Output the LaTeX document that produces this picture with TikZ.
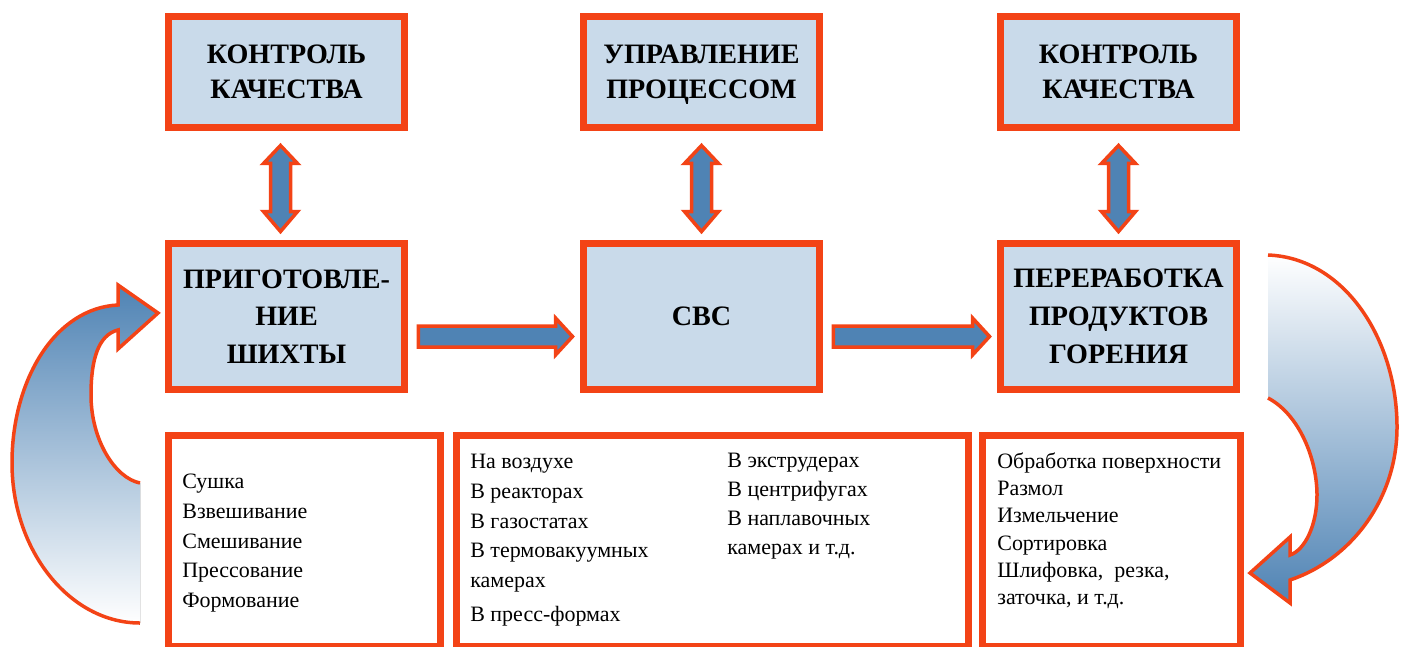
\documentclass[tikz,border=0pt]{standalone}
\usepackage{fontspec}
\setmainfont{Liberation Serif}
\usetikzlibrary{calc}
\definecolor{brd}{RGB}{243,67,22}
\definecolor{boxfill}{RGB}{201,218,234}
\definecolor{arrblue}{RGB}{79,131,180}
\tikzset{
  titlebox/.style={draw=brd, fill=boxfill, line width=0.14cm, align=center,
    minimum width=4.72cm, inner sep=0pt,
    font=\bfseries\fontsize{16}{20}\selectfont},
  listbox/.style={draw=brd, fill=white, line width=0.14cm, inner sep=0pt},
  listtext/.style={anchor=north west, inner sep=0pt, align=left},
  blockarr/.style={draw=brd, fill=arrblue, line width=0.07cm, line join=miter},
  curvearr/.style={draw=brd, line width=0.07cm, line join=miter}
}
\newcommand\vdarrow[3]{%
  \path ($(#1.south)+(#3,14.5)$) coordinate (va) ($(#2.north)+(#3,-8.5)$) coordinate (vb);
  \draw[blockarr] (va) -- ($(va)+(17,18)$) -- ($(va)+(10,18)$) -- ($(vb)+(10,-20)$)
    -- ($(vb)+(17,-20)$) -- (vb) -- ($(vb)+(-17,-20)$) -- ($(vb)+(-10,-20)$)
    -- ($(va)+(-10,18)$) -- ($(va)+(-17,18)$) -- cycle;}
\newcommand\hsarrow[2]{%
  \path ($(#1.east)+(10.5,20)$) coordinate (ha) ($(#2.west)+(-7.5,20)$) coordinate (hb);
  \draw[blockarr] ($(ha)+(0,-10.5)$) -- ($(hb)+(-17,-10.5)$) -- ($(hb)+(-17,-18.5)$)
    -- (hb) -- ($(hb)+(-17,18.5)$) -- ($(hb)+(-17,10.5)$) -- ($(ha)+(0,10.5)$) -- cycle;}
\begin{document}
\begin{tikzpicture}[x=0.02cm,y=-0.02cm]
\useasboundingbox (0,0) rectangle (1405,646);
% top row
\node[titlebox, minimum height=2.22cm] (t1) at (286.5,72) {КОНТРОЛЬ\\КАЧЕСТВА};
\node[titlebox, minimum height=2.22cm, text depth=0pt] (t2) at (701.5,72) {УПРАВЛЕНИЕ\\ПРОЦЕССОМ};
\node[titlebox, minimum height=2.22cm] (t3) at (1118.5,72) {КОНТРОЛЬ\\КАЧЕСТВА};
% middle row
\node[titlebox, minimum height=2.92cm, font=\bfseries\fontsize{16}{21.5}\selectfont] (m1) at (286.5,316.5) {ПРИГОТОВЛЕ-\\НИЕ\\ШИХТЫ};
\node[titlebox, minimum height=2.92cm] (m2) at (701.5,316.5) {СВС};
\node[titlebox, minimum height=2.92cm, font=\bfseries\fontsize{16}{21.5}\selectfont] (m3) at (1118.5,316.5) {ПЕРЕРАБОТКА\\ПРОДУКТОВ\\ГОРЕНИЯ};
% bottom row
\node[listbox, minimum width=5.44cm, minimum height=4.23cm] (b1) at (304.5,541.25) {};
\node[listbox, minimum width=10.24cm, minimum height=4.23cm] (b2) at (712.5,541.25) {};
\node[listbox, minimum width=5.16cm, minimum height=4.23cm] (b3) at (1111.5,541.25) {};
\node[listtext, font=\fontsize{12.5}{17}\selectfont] (l1) at (182,467) {\strut Сушка\\Взвешивание\\Смешивание\\Прессование\\Формование};
\node[listtext, font=\fontsize{12.5}{17}\selectfont] (l2) at (470,447) {\strut На воздухе\\В реакторах\\В газостатах\\В термовакуумных\\камерах\\[2pt]В пресс-формах};
\node[listtext, font=\fontsize{12.5}{16.5}\selectfont] (l3) at (727,447) {\strut В экструдерах\\В центрифугах\\В наплавочных\\камерах и т.д.};
\node[listtext, font=\fontsize{12.5}{15.5}\selectfont] (l4) at (997,449) {\strut Обработка поверхности\\Размол\\Измельчение\\Сортировка\\Шлифовка,\ \ резка,\\заточка, и т.д.};
% vertical double arrows
\vdarrow{t1}{m1}{-6}
\vdarrow{t2}{m2}{0}
\vdarrow{t3}{m3}{0}
% horizontal arrows
\hsarrow{m1}{m2}
\hsarrow{m2}{m3}
% left curved arrow
\fill[top color=arrblue, bottom color=white]
  (140,483) .. controls (115,478) and (91,440) .. (91,395)
  .. controls (91,360) and (98,335) .. (118,330)
  -- (118,349) -- (158,313) -- (118,285) -- (118,305)
  .. controls (55,308) and (12,380) .. (12,463)
  .. controls (12,551) and (70,623) .. (140,623) -- cycle;
\draw[curvearr]
  (140,483) .. controls (115,478) and (91,440) .. (91,395)
  .. controls (91,360) and (98,335) .. (118,330)
  -- (118,349) -- (158,313) -- (118,285) -- (118,305)
  .. controls (55,308) and (12,380) .. (12,463)
  .. controls (12,551) and (70,623) .. (140,623);
% right curved arrow
\fill[top color=white, bottom color=arrblue]
  (1268,398) .. controls (1300,415) and (1317,460) .. (1317,495)
  .. controls (1317,525) and (1305,550) .. (1290,555)
  -- (1290,537) -- (1250,573) -- (1290,603) -- (1290,580)
  .. controls (1350,560) and (1397,500) .. (1397,427)
  .. controls (1397,340) and (1345,258) .. (1268,255) -- cycle;
\draw[curvearr]
  (1268,398) .. controls (1300,415) and (1317,460) .. (1317,495)
  .. controls (1317,525) and (1305,550) .. (1290,555)
  -- (1290,537) -- (1250,573) -- (1290,603) -- (1290,580)
  .. controls (1350,560) and (1397,500) .. (1397,427)
  .. controls (1397,340) and (1345,258) .. (1268,255);
\end{tikzpicture}
\end{document}
